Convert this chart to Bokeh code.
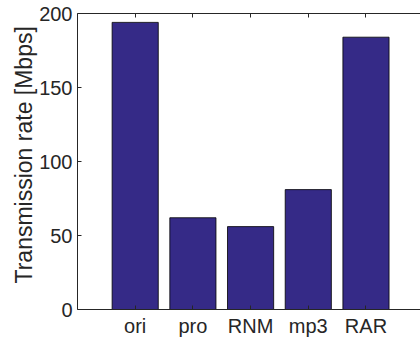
from bokeh.plotting import figure
from bokeh.models import Range1d, FixedTicker, LinearAxis, ColumnDataSource, Title
from bokeh.embed import file_html
from bokeh.resources import INLINE

categories = ["ori", "pro", "RNM", "mp3", "RAR"]
rates = [194, 62, 56, 81, 184]
y_ticks = [0, 50, 100, 150, 200]
y_title = "Transmission rate [Mbps]"

xs = [i + 1 for i in range(len(categories))]
src = ColumnDataSource(data=dict(x=xs, top=rates, cat=categories))

FONT = "Liberation Sans"
AX = "#262626"

p = figure(width=420, height=343, output_backend="svg", toolbar_location=None,
           x_range=Range1d(0, 5.945), y_range=Range1d(0, 200))
p.min_border_left = 77
p.min_border_right = 0
p.min_border_top = 13
p.min_border_bottom = 34
p.outline_line_color = None
p.grid.grid_line_color = None
p.background_fill_color = "white"
p.border_fill_color = "white"

p.vbar(x="x", top="top", width=0.8, bottom=0, source=src,
       fill_color="#352A87", line_color="black", line_width=0.8)

xa = p.xaxis[0]
xa.ticker = FixedTicker(ticks=xs)
xa.major_label_overrides = {x: c for x, c in zip(xs, categories)}
xa.minor_tick_line_color = None
xa.major_tick_in = 4
xa.major_tick_out = 0
xa.axis_line_color = AX
xa.major_tick_line_color = AX
xa.major_label_text_font = FONT
xa.major_label_text_font_size = "20px"
xa.major_label_text_color = AX
xa.major_label_standoff = 5

ya = p.yaxis[0]
ya.ticker = FixedTicker(ticks=y_ticks)
ya.minor_tick_line_color = None
ya.major_tick_in = 4
ya.major_tick_out = 0
ya.axis_line_color = AX
ya.major_tick_line_color = AX
ya.major_label_text_font = FONT
ya.major_label_text_font_size = "20px"
ya.major_label_text_color = AX
ya.major_label_standoff = 5

title = Title(text=y_title, align="left", offset=26, standoff=0,
              text_font=FONT, text_font_size="23px", text_font_style="normal",
              text_color=AX)
p.add_layout(title, "left")

top_axis = LinearAxis(ticker=FixedTicker(ticks=xs), major_label_text_font_size="0px",
                      major_tick_in=4, major_tick_out=0, minor_tick_line_color=None,
                      axis_line_color=AX, major_tick_line_color=AX,
                      major_label_standoff=0)
top_axis.major_label_text_color = None
p.add_layout(top_axis, "above")

open("out.html", "w").write(file_html(p, INLINE))
